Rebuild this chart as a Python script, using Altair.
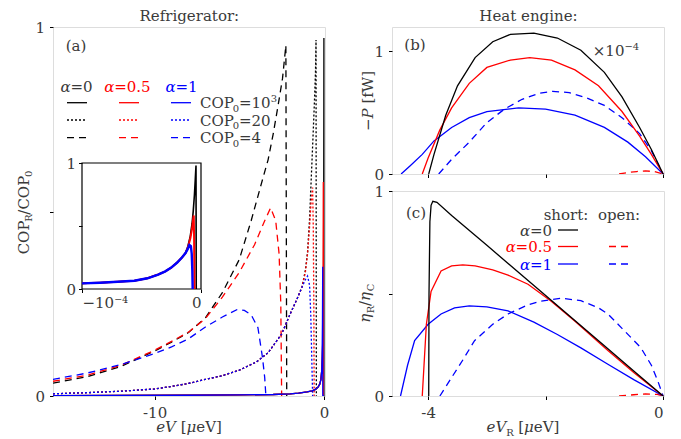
import altair as alt
import pandas as pd

FONT = "DejaVu Serif"
GRAY = "#3a3a3a"
K, R, B = "#000000", "#ff0000", "#0000ff"
FS = 15
SS = 10
LW = 1.3
DOT = [2, 2]
DASH = [7, 5]

# ---------------- panel (a): COP_R/COP_0 vs eV [ueV] ----------------
a_sol_common_x = [-16, -12, -8, -5, -3, -2, -1.5, -1, -0.7, -0.5, -0.35, -0.25, -0.18, -0.13]
a_sol_common_y = [0.001, 0.0015, 0.002, 0.003, 0.004, 0.006, 0.008, 0.011, 0.014, 0.018, 0.024, 0.032, 0.045, 0.07]
a_sol0_x = a_sol_common_x + [-0.1, -0.06, -0.03, -0.015, -0.008, -0.005, -0.003, 0.0]
a_sol0_y = a_sol_common_y + [0.1, 0.17, 0.3, 0.55, 0.8, 0.97, 0.0, 0.0]
a_solH_x = a_sol_common_x + [-0.1, -0.07, -0.05, -0.04, -0.035, 0.0]
a_solH_y = a_sol_common_y + [0.1, 0.16, 0.35, 0.58, 0.0, 0.0]
a_sol1_x = a_sol_common_x + [-0.11, -0.09, -0.08, -0.075, -0.07, 0.0]
a_sol1_y = a_sol_common_y + [0.11, 0.2, 0.3, 0.35, 0.0, 0.0]

a_dot_common_x = [-16, -14, -12, -10, -9, -8, -7, -6, -5, -4, -3.3, -2.5, -2.0, -1.6, -1.3]
a_dot_common_y = [0.006, 0.009, 0.013, 0.019, 0.026, 0.034, 0.045, 0.055, 0.07, 0.092, 0.117, 0.168, 0.222, 0.262, 0.295]
a_dot0_x = a_dot_common_x + [-1.1, -0.97, -0.85, -0.77, -0.65, -0.57, -0.5, -0.47, -0.45]
a_dot0_y = a_dot_common_y + [0.34, 0.39, 0.48, 0.57, 0.70, 0.79, 0.88, 0.965, 0.0]
a_dotH_x = a_dot_common_x + [-1.1, -0.97, -0.85, -0.77, -0.67, -0.63, -0.6, -0.58]
a_dotH_y = a_dot_common_y + [0.335, 0.385, 0.46, 0.52, 0.565, 0.45, 0.25, 0.0]
a_dot1_x = a_dot_common_x + [-1.1, -0.97, -0.85, -0.78, -0.72, -0.67]
a_dot1_y = a_dot_common_y + [0.315, 0.325, 0.30, 0.22, 0.1, 0.0]

a_dash0_x = [-16, -14, -12, -10, -9, -8, -7, -6, -5, -4.3, -3.7, -3.3, -3.0, -2.7, -2.45, -2.25, -2.2]
a_dash0_y = [0.035, 0.052, 0.08, 0.122, 0.146, 0.172, 0.212, 0.28, 0.37, 0.475, 0.575, 0.64, 0.71, 0.79, 0.86, 0.95, 0.0]
a_dashH_x = [-16, -14, -12, -10, -9, -8, -7, -6, -5, -4.1, -3.5, -3.15, -2.85, -2.65, -2.55, -2.5]
a_dashH_y = [0.04, 0.056, 0.083, 0.124, 0.148, 0.173, 0.21, 0.268, 0.335, 0.41, 0.475, 0.51, 0.475, 0.385, 0.25, 0.0]
a_dash1_x = [-16, -14, -12, -10, -9, -8, -7, -6, -5.1, -4.7, -4.3, -3.9, -3.63, -3.5, -3.43]
a_dash1_y = [0.045, 0.062, 0.085, 0.115, 0.133, 0.155, 0.187, 0.214, 0.235, 0.232, 0.22, 0.185, 0.104, 0.05, 0.0]

# inset (x in units of 1e-4 ueV)
in_common_x = [-1.0, -0.85, -0.7, -0.56, -0.45, -0.36, -0.3, -0.25, -0.2, -0.16, -0.13]
in_common_y = [0.045, 0.05, 0.057, 0.066, 0.085, 0.115, 0.14, 0.17, 0.21, 0.25, 0.285]
in0_x = in_common_x + [-0.11, -0.09, -0.075, -0.065, -0.055, -0.048, -0.042, -0.04]
in0_y = in_common_y + [0.34, 0.42, 0.52, 0.62, 0.75, 0.87, 0.98, 0.0]
inH_x = in_common_x + [-0.11, -0.09, -0.075, -0.065, -0.061, -0.058, -0.055]
inH_y = in_common_y + [0.33, 0.40, 0.48, 0.56, 0.584, 0.4, 0.0]
in1_x = in_common_x + [-0.11, -0.098, -0.085, -0.078, -0.073, -0.07]
in1_y = in_common_y + [0.32, 0.35, 0.34, 0.28, 0.15, 0.0]

# ---------------- panel (b): -P [fW] x1e-4 vs eV_R ----------------
b0_x = [-3.99, -3.9, -3.7, -3.5, -3.2, -2.9, -2.6, -2.2, -1.8, -1.4, -1.0, -0.7, -0.4, -0.2, 0]
b0_y = [0, 0.16, 0.48, 0.72, 0.95, 1.08, 1.14, 1.15, 1.11, 1.01, 0.83, 0.63, 0.38, 0.2, 0]
bH_x = [-4.1, -4.0, -3.8, -3.6, -3.3, -3.0, -2.6, -2.27, -1.9, -1.5, -1.1, -0.7, -0.4, -0.2, 0]
bH_y = [0, 0.13, 0.36, 0.54, 0.74, 0.87, 0.93, 0.95, 0.93, 0.85, 0.72, 0.51, 0.31, 0.16, 0]
b1_x = [-4.46, -4.3, -4.1, -3.9, -3.6, -3.3, -3.0, -2.46, -2.0, -1.5, -1.0, -0.6, -0.3, 0]
b1_y = [0, 0.07, 0.16, 0.27, 0.38, 0.46, 0.51, 0.54, 0.53, 0.48, 0.38, 0.26, 0.14, 0]
b1o_x = [-3.82, -3.6, -3.3, -3.0, -2.7, -2.4, -2.1, -1.88, -1.6, -1.3, -1.0, -0.7, -0.4, -0.2, 0]
b1o_y = [0, 0.12, 0.26, 0.42, 0.53, 0.61, 0.66, 0.675, 0.665, 0.62, 0.56, 0.46, 0.33, 0.19, 0]
bHo_x = [-0.75, -0.6, -0.45, -0.3, -0.15, 0]
bHo_y = [0, 0.012, 0.02, 0.025, 0.02, 0]

# ---------------- panel (c): eta_R/eta_C vs eV_R ----------------
c0_x = [-3.99, -3.985, -3.97, -3.95, -3.92, -3.85, -3.6, -3.0, -2.0, -1.0, -0.5, 0]
c0_y = [0, 0.5, 0.85, 0.93, 0.95, 0.945, 0.88, 0.735, 0.49, 0.245, 0.122, 0]
cH_x = [-4.1, -4.07, -4.03, -3.95, -3.78, -3.6, -3.41, -3.2, -2.9, -2.64, -2.3, -1.91, -1.5, -0.94, -0.5, 0]
cH_y = [0, 0.15, 0.35, 0.51, 0.61, 0.635, 0.64, 0.635, 0.615, 0.59, 0.545, 0.463, 0.365, 0.222, 0.115, 0]
c1_x = [-4.47, -4.35, -4.23, -4.0, -3.78, -3.55, -3.3, -3.0, -2.64, -2.2, -1.8, -1.4, -0.94, -0.5, 0]
c1_y = [0, 0.15, 0.27, 0.35, 0.40, 0.43, 0.44, 0.435, 0.415, 0.36, 0.30, 0.235, 0.155, 0.08, 0]
c1o_x = [-3.8, -3.6, -3.4, -3.21, -2.9, -2.64, -2.3, -2.08, -1.74, -1.4, -1.1, -0.94, -0.7, -0.38, -0.2, -0.09, 0]
c1o_y = [0, 0.09, 0.18, 0.27, 0.35, 0.40, 0.445, 0.463, 0.477, 0.465, 0.43, 0.40, 0.33, 0.236, 0.15, 0.073, 0]
cHo_x = [-0.75, -0.5, -0.3, -0.1, 0]
cHo_y = [0, 0.006, 0.01, 0.008, 0]

# ---------------- text helpers (DejaVu Serif advance widths, em) ----------------
WN = {'C': .715, 'O': .787, 'P': .673, 'R': .706, '/': .337, '[': .39, ']': .39, 'f': .37,
      'W': 1.028, ' ': .318, '−': .838, '-': .338, '=': .838, 'e': .592, 'V': .722, 'μ': .654,
      '(': .39, ')': .39, 'a': .596, 'b': .64, 'c': .56, 's': .514, 'h': .644, 'o': .602, 'r': .478,
      't': .402, ':': .337, 'p': .64, 'n': .644, '×': .838, 'H': .875, 'g': .64, 'i': .32, '.': .318,
      '0': .636, '1': .636, '2': .636, '3': .636, '4': .636, '5': .636}
WI = {'e': .592, 'V': .722, 'P': .673, 'α': .66, 'η': .644, 'μ': .654}


def tw(s, size, it):
    t = WI if it else WN
    return sum(t.get(c, 0.6) for c in s) * size


def segs_h(parts, x, base, color, align='center'):
    total = sum(tw(p[0], p[2], p[1]) for p in parts)
    x0 = x - total / 2 if align == 'center' else (x - total if align == 'right' else x)
    out = []
    for text, it, size, sh in parts:
        lead = len(text) - len(text.lstrip(' '))
        out.append((text.lstrip(' '), it, size, x0 + lead * WN[' '] * size, base + sh, color, 0))
        x0 += tw(text, size, it)
    return out


def segs_v(parts, bx, cy, color):
    total = sum(tw(p[0], p[2], p[1]) for p in parts)
    y0 = cy + total / 2
    out = []
    for text, it, size, sh in parts:
        lead = len(text) - len(text.lstrip(' '))
        out.append((text.lstrip(' '), it, size, bx + sh, y0 - lead * WN[' '] * size, color, 270))
        y0 -= tw(text, size, it)
    return out


ONE = pd.DataFrame({'a': [0]})


def texts(segs):
    ch = []
    for text, it, size, x, y, color, ang in segs:
        ch.append(alt.Chart(ONE).mark_text(
            text=text, font=FONT, fontSize=size, fontStyle='italic' if it else 'normal',
            color=color, align='left', baseline='alphabetic', angle=ang
        ).encode(x=alt.value(x), y=alt.value(y)))
    return ch


def seg_line(x1, x2, y, color, dash=None):
    kw = dict(color=color, strokeWidth=LW)
    if dash:
        kw['strokeDash'] = dash
    return alt.Chart(ONE).mark_rule(**kw).encode(x=alt.value(x1), x2=alt.value(x2), y=alt.value(y))


def curve(xs, ys, color, dash, xsc, ysc, xax, yax, width=LW):
    kw = dict(color=color, strokeWidth=width, clip=True)
    if dash:
        kw['strokeDash'] = dash
    return alt.Chart(pd.DataFrame({'x': xs, 'y': ys})).mark_line(**kw).encode(
        x=alt.X('x:Q', scale=xsc, axis=xax), y=alt.Y('y:Q', scale=ysc, axis=yax), order='x:Q')


def ax(**kw):
    base = dict(title=None, grid=False, domain=False, tickSize=3.5, tickColor='black', tickWidth=1,
                labelFont=FONT, labelFontSize=FS, labelColor=GRAY)
    base.update(kw)
    return alt.Axis(**base)


LAB01 = "datum.value == 1 ? '1' : (datum.value == 0 ? '0' : '')"
SUB = 3.5
SUP = -6

# ---------------- panel (a) ----------------
WA, HA = 272, 369
xa = alt.Scale(domain=[-16, 0.06], nice=False, zero=False)
ya = alt.Scale(domain=[0, 1], nice=False)
xaxa = ax(values=[-10, 0], labelExpr="datum.value == 0 ? '0' : '-10'", labelPadding=6)
yaxa = ax(values=[0, 0.5, 1], labelExpr=LAB01, labelPadding=5)

a_layers = []
for xs, ys, c, d in [
    (a_dash0_x, a_dash0_y, K, DASH), (a_dashH_x, a_dashH_y, R, DASH), (a_dash1_x, a_dash1_y, B, DASH),
    (a_dot0_x, a_dot0_y, K, DOT), (a_dotH_x, a_dotH_y, R, DOT), (a_dot1_x, a_dot1_y, B, DOT),
    (a_sol0_x, a_sol0_y, K, None), (a_solH_x, a_solH_y, R, None), (a_sol1_x, a_sol1_y, B, None),
]:
    a_layers.append(curve(xs, ys, c, d, xa, ya, xaxa, yaxa))

a_segs = []
a_segs += segs_h([("Refrigerator:", False, FS, 0)], 136, -6, GRAY)
a_segs += segs_h([("(a)", False, FS, 0)], 23, 24, GRAY)
a_segs += segs_h([("α", True, FS, 0), ("=0", False, FS, 0)], 23.5, 65, GRAY)
a_segs += segs_h([("α", True, FS, 0), ("=0.5", False, FS, 0)], 74.5, 65, R)
a_segs += segs_h([("α", True, FS, 0), ("=1", False, FS, 0)], 128.5, 65, B)
a_segs += segs_h([("COP", False, FS, 0), ("0", False, SS, SUB), ("=10", False, FS, 0), ("3", False, SS, SUP)], 147, 81, GRAY, 'left')
a_segs += segs_h([("COP", False, FS, 0), ("0", False, SS, SUB), ("=20", False, FS, 0)], 147, 98.5, GRAY, 'left')
a_segs += segs_h([("COP", False, FS, 0), ("0", False, SS, SUB), ("=4", False, FS, 0)], 147, 116, GRAY, 'left')
a_segs += segs_v([("COP", False, FS, 0), ("R", False, SS, SUB), ("/COP", False, FS, 0), ("0", False, SS, SUB)], -24.5, 185.5, GRAY)
a_segs += segs_h([("eV", True, FS, 0), (" [", False, FS, 0), ("μ", True, FS, 0), ("eV]", False, FS, 0)], 136, 405, GRAY)
a_layers += texts(a_segs)
for (x1, x2), c in [((14, 34), K), ((66, 86), R), ((118, 138), B)]:
    a_layers.append(seg_line(x1, x2, 75.7, c))
    a_layers.append(seg_line(x1, x2, 93, c, DOT))
    a_layers.append(seg_line(x1, x2, 110.7, c, DASH))
# invisible anchors fixing the left and top edges of the whole figure
a_layers.append(alt.Chart(ONE).mark_rule(strokeOpacity=0).encode(
    x=alt.value(-44), x2=alt.value(-43), y=alt.value(100), y2=alt.value(101)))
a_layers.append(alt.Chart(ONE).mark_rule(strokeOpacity=0).encode(
    x=alt.value(100), x2=alt.value(101), y=alt.value(-30), y2=alt.value(-29)))

mainA = alt.layer(*a_layers)

# inset
xi = alt.Scale(domain=[-1, 0], range=[29, 148], nice=False, zero=False)
yi = alt.Scale(domain=[0, 1], range=[262, 136], nice=False)
xaxi = ax(orient='bottom', offset=-107, values=[-1, 0],
          labelExpr="datum.value == 0 ? '0' : '−10⁻⁴'", labelPadding=3, zindex=1)
yaxi = ax(orient='left', offset=-29, values=[0, 0.5, 1], labelExpr=LAB01, labelPadding=3, zindex=1)
frame = alt.Chart(pd.DataFrame({'x0': [-1], 'x1': [0], 'y0': [0], 'y1': [1]})).mark_rect(
    fill='white', stroke='black', strokeWidth=1.2).encode(
    x=alt.X('x0:Q', scale=xi, axis=xaxi), x2='x1:Q',
    y=alt.Y('y0:Q', scale=yi, axis=yaxi), y2='y1:Q')
inset = alt.layer(
    frame,
    curve(in0_x, in0_y, K, None, xi, yi, xaxi, yaxi, 1.6),
    curve(inH_x, inH_y, R, None, xi, yi, xaxi, yaxi, 2.0),
    curve(in1_x, in1_y, B, None, xi, yi, xaxi, yaxi, 2.4),
)

panelA = alt.layer(mainA, inset).resolve_scale(x='independent', y='independent').properties(width=WA, height=HA)

# ---------------- panel (b) ----------------
WB, HB = 272, 147
xb = alt.Scale(domain=[-4.615, 0.015], nice=False, zero=False)
yb = alt.Scale(domain=[0, 1.2], nice=False)
xaxb = ax(values=[-4, -2, 0], labels=False)
yaxb = ax(values=[0, 1], labelExpr=LAB01, labelPadding=5)
b_layers = [curve(xs, ys, c, d, xb, yb, xaxb, yaxb) for xs, ys, c, d in [
    (b1o_x, b1o_y, B, DASH), (bHo_x, bHo_y, R, DASH),
    (b1_x, b1_y, B, None), (bH_x, bH_y, R, None), (b0_x, b0_y, K, None)]]
b_segs = []
b_segs += segs_h([("Heat engine:", False, FS, 0)], 136.5, -6, GRAY)
b_segs += segs_h([("(b)", False, FS, 0)], 23, 23, GRAY)
b_segs += segs_h([("×10", False, FS, 0), ("−4", False, SS, SUP)], 224, 29, GRAY)
b_segs += segs_v([("−", False, FS, 0), ("P", True, FS, 0), (" [fW]", False, FS, 0)], -19.5, 74, GRAY)
b_layers += texts(b_segs)
panelB = alt.layer(*b_layers).properties(width=WB, height=HB)

# ---------------- panel (c) ----------------
WC, HC = 272, 205
yc = alt.Scale(domain=[0, 1], nice=False)
xaxc = ax(values=[-4, -2, 0], labelExpr="datum.value == -2 ? '' : (datum.value == 0 ? '0' : '-4')", labelPadding=6)
yaxc = ax(values=[0, 0.5, 1], labelExpr=LAB01, labelPadding=5)
c_layers = [curve(xs, ys, c, d, xb, yc, xaxc, yaxc) for xs, ys, c, d in [
    (c1o_x, c1o_y, B, DASH), (cHo_x, cHo_y, R, DASH),
    (c1_x, c1_y, B, None), (cH_x, cH_y, R, None), (c0_x, c0_y, K, None)]]
c_segs = []
c_segs += segs_h([("(c)", False, FS, 0)], 24, 27, GRAY)
c_segs += segs_h([("short:", False, FS, 0)], 174, 29, GRAY)
c_segs += segs_h([("open:", False, FS, 0)], 227, 29, GRAY)
c_segs += segs_h([("α", True, FS, 0), ("=0", False, FS, 0)], 160, 44.5, GRAY, 'right')
c_segs += segs_h([("α", True, FS, 0), ("=0.5", False, FS, 0)], 160, 61, R, 'right')
c_segs += segs_h([("α", True, FS, 0), ("=1", False, FS, 0)], 160, 78.5, B, 'right')
c_segs += segs_v([("η", True, FS, 0), ("R", False, SS, SUB), ("/", False, FS, 0),
                  ("η", True, FS, 0), ("C", False, SS, SUB)], -22, 112.5, GRAY)
c_segs += segs_h([("eV", True, FS, 0), ("R", False, SS, SUB), (" [", False, FS, 0), ("μ", True, FS, 0),
                  ("eV]", False, FS, 0)], 131, 241, GRAY)
c_layers += texts(c_segs)
c_layers.append(seg_line(166, 186, 39, K))
c_layers.append(seg_line(166, 186, 55.5, R))
c_layers.append(seg_line(166, 186, 73, B))
c_layers.append(seg_line(217, 237, 55.5, R, DASH))
c_layers.append(seg_line(217, 237, 73, B, DASH))
panelC = alt.layer(*c_layers).properties(width=WC, height=HC)

right = alt.vconcat(panelB, panelC, spacing=17, bounds='flush')
chart = alt.hconcat(panelA, right, spacing=67, bounds='flush').properties(
    padding={"left": 0, "top": -12, "right": 0, "bottom": 0}
).configure_view(stroke='black', strokeWidth=1.2).configure(background='white')

chart.save("out.html", embed_options={"renderer": "svg", "actions": False})
